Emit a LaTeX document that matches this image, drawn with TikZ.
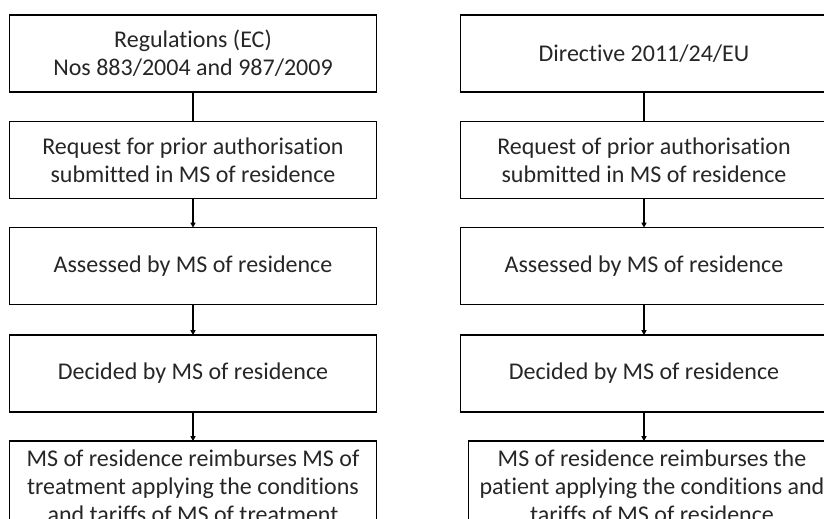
\documentclass[tikz,border=0pt]{standalone}
\usepackage{fontspec}
\setmainfont{Carlito}[Ligatures=NoCommon]
\usetikzlibrary{arrows.meta}
\tikzset{
  box/.style={draw=black, line width=1.7pt, minimum width=367pt, minimum height=77pt,
    inner sep=0pt, align=center, text=black!85, font=\fontsize{24}{28}\selectfont},
  link/.style={draw=black, line width=1.4pt},
  arr/.style={link, -{Triangle[length=5pt,width=5pt]}, shorten >=-1pt}
}
\begin{document}
\begin{tikzpicture}[x=1pt,y=-1pt]
\useasboundingbox (0,0) rectangle (824,519);
\clip (0,0) rectangle (824,519);
% left column
\node[box] (l1) at (193,53.5) {Regulations (EC)\\Nos 883/2004 and 987/2009};
\node[box] (l2) at (193,160) {Request for prior authorisation\\submitted in MS of residence};
\node[box] (l3) at (193,266) {Assessed by MS of residence};
\node[box] (l4) at (193,373.5) {Decided by MS of residence};
\node[box, minimum height=90pt] (l5) at (193,486) {MS of residence reimburses MS of\\treatment applying the conditions\\and tariffs of MS of treatment};
% right column
\node[box] (r1) at (644,53.5) {Directive 2011/24/EU};
\node[box] (r2) at (644,160) {Request of prior authorisation\\submitted in MS of residence};
\node[box] (r3) at (644,266) {Assessed by MS of residence};
\node[box] (r4) at (644,373.5) {Decided by MS of residence};
\node[box, minimum height=90pt] (r5) at (652,486) {MS of residence reimburses the\\patient applying the conditions and\\tariffs of MS of residence};
% connectors
\draw[link] (l1.south) -- (l2.north);
\draw[arr] (l2.south) -- (l3.north);
\draw[arr] (l3.south) -- (l4.north);
\draw[arr] (l4.south) -- (l5.north);
\draw[link] (r1.south) -- (r2.north);
\draw[arr] (r2.south) -- (r3.north);
\draw[arr] (r3.south) -- (r4.north);
\draw[arr] (r4.south) -- (r4.south |- r5.north);
\end{tikzpicture}
\end{document}
